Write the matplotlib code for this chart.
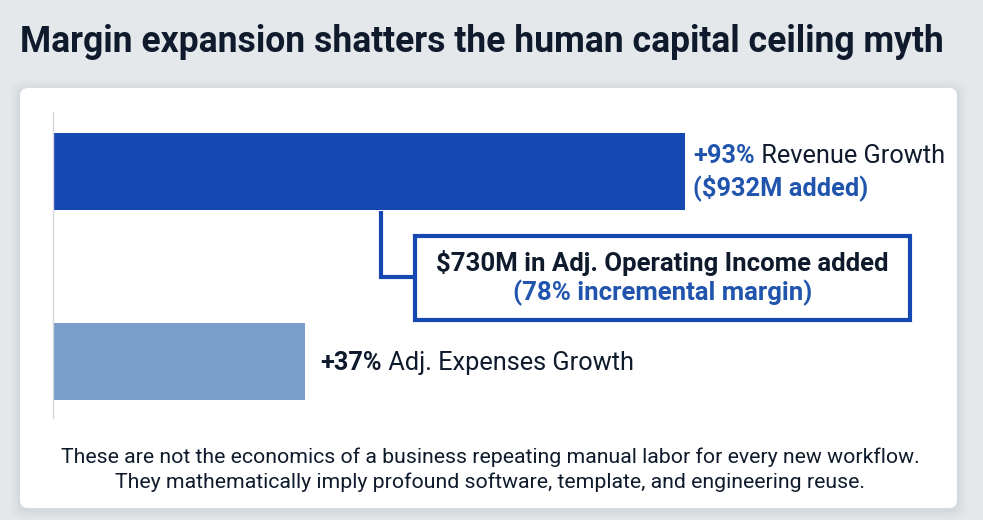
import matplotlib.pyplot as plt
from matplotlib.patches import FancyBboxPatch, Rectangle

plt.rcParams['font.family'] = ['Roboto', 'DejaVu Sans']

categories = ["Revenue Growth", "Adj. Expenses Growth"]
growth_pct = [93, 37]
revenue_added = 932
op_income_added = 730
incremental_margin = 78

title = "Margin expansion shatters the human capital ceiling myth"
footer_lines = [
    "These are not the economics of a business repeating manual labor for every new workflow.",
    "They mathematically imply profound software, template, and engineering reuse.",
]

BG = "#e4e8eb"
DARK = "#0f1b2d"
BLUE = "#1548b0"
LIGHT = "#7a9ecc"
TXT_BLUE = "#2155ad"

W, H = 983, 520
fig = plt.figure(figsize=(W / 100, H / 100), dpi=100, facecolor=BG)

# card with a soft shadow
for i, a in enumerate([0.025, 0.03, 0.04, 0.05]):
    g = 0.10 - i * 0.025
    fig.patches.append(FancyBboxPatch((0.20 - g, 0.12 - g - 0.02), 9.37 + 2 * g, 4.20 + 2 * g,
                                      boxstyle="round,pad=0,rounding_size=0.12",
                                      transform=fig.dpi_scale_trans, facecolor="#7f8a94",
                                      edgecolor="none", alpha=a, zorder=0))
fig.patches.append(FancyBboxPatch((0.20, 0.12), 9.37, 4.20,
                                  boxstyle="round,pad=0,rounding_size=0.08",
                                  transform=fig.dpi_scale_trans, facecolor="white",
                                  edgecolor="none", zorder=1))

fig.text(20 / W, 1 - 52 / H, title, fontsize=25.6, fontweight="bold", color=DARK,
         ha="left", va="baseline")

# axes: left spine at x=53px, spans y 112..418px
AX_L, AX_T, AX_B = 53, 112, 418
PX_PER_UNIT = 6.8
ax = fig.add_axes([AX_L / W, 1 - AX_B / H, (957 - AX_L) / W, (AX_B - AX_T) / H])
ax.set_facecolor("none")
ax.set_zorder(2)
ax.set_xlim(0, (957 - AX_L) / PX_PER_UNIT)
Y0, Y_STEP = 171.5, 190.0  # pixel centre of first bar, px between bars
ax.set_ylim((AX_B - Y0) / Y_STEP, (AX_T - Y0) / Y_STEP)
ax.barh([0, 1], growth_pct, height=0.405, color=[BLUE, LIGHT], zorder=2)
for s in ["top", "right", "bottom"]:
    ax.spines[s].set_visible(False)
ax.spines["left"].set_color("#d3d7db")
ax.spines["left"].set_linewidth(1.0)
ax.set_xticks([])
ax.set_yticks([])


def px_x(p):
    return (p - AX_L) / PX_PER_UNIT


def px_y(p):
    return (p - Y0) / Y_STEP


FS = 18.3
# revenue label
b1 = ax.annotate(f"+{growth_pct[0]}%", xy=(growth_pct[0], px_y(163)), xytext=(8, 0),
                 textcoords="offset pixels", fontsize=FS, fontweight="bold",
                 color=TXT_BLUE, ha="left", va="baseline")
ax.annotate(f" {categories[0]}", xy=(1, 0), xycoords=b1, fontsize=FS, color=DARK,
            ha="left", va="bottom")
ax.annotate(f"(${revenue_added}M added)", xy=(growth_pct[0], px_y(195)), xytext=(8, 0),
            textcoords="offset pixels", fontsize=FS, fontweight="bold",
            color=TXT_BLUE, ha="left", va="baseline")

# expenses label
b2 = ax.annotate(f"+{growth_pct[1]}%", xy=(growth_pct[1], px_y(370)), xytext=(16, 0),
                 textcoords="offset pixels", fontsize=FS, fontweight="bold",
                 color=DARK, ha="left", va="baseline")
ax.annotate(f" {categories[1]}", xy=(1, 0), xycoords=b2, fontsize=FS, color=DARK,
            ha="left", va="bottom")

# connector and callout box
ax.plot([px_x(381), px_x(381), px_x(415)], [px_y(211), px_y(277), px_y(277)],
        color=BLUE, lw=3, solid_joinstyle="miter", solid_capstyle="butt", zorder=3)
ax.add_patch(Rectangle((px_x(415), px_y(236)), px_x(910) - px_x(415), px_y(320) - px_y(236),
                       facecolor="white", edgecolor=BLUE, lw=3, zorder=4))
cx = (px_x(415) + px_x(910)) / 2
ax.text(cx, px_y(271), f"${op_income_added}M in Adj. Operating Income added",
        fontsize=18.5, fontweight="bold", color=DARK, ha="center", va="baseline", zorder=5)
ax.text(cx, px_y(300), f"({incremental_margin}% incremental margin)",
        fontsize=18.5, fontweight="bold", color=TXT_BLUE, ha="center", va="baseline", zorder=5)

for line, base in zip(footer_lines, [463, 488]):
    fig.text(490 / W, 1 - base / H, line, fontsize=15.3, color=DARK, ha="center",
             va="baseline", zorder=3)

fig.savefig("out.png", dpi=100, facecolor=BG)
